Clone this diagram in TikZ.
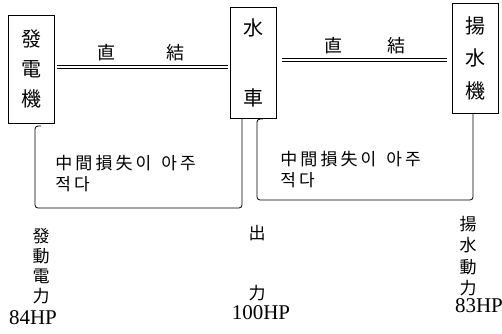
\documentclass[tikz,border=0pt]{standalone}
\usepackage{fontspec}
\setmainfont{Liberation Serif}
\newfontfamily\cjk{Noto Sans CJK KR}
\newfontfamily\cjkwide[LetterSpace=18]{Noto Sans CJK KR}
\usetikzlibrary{positioning}

\begin{document}
\begin{tikzpicture}[x=1pt,y=-1pt,line width=0.8pt,
			unit/.style={draw,minimum width=46pt,inner sep=0pt,align=center,font=\cjk\fontsize{20}{30}\selectfont},
			coupling/.style={double,double distance=2.4pt,line width=0.7pt},
			tag/.style={inner sep=0pt,font=\cjk\fontsize{18}{18}\selectfont},
			loss/.style={anchor=west,align=left,inner sep=0pt,font=\cjkwide\fontsize{17}{21}\selectfont},
			column/.style={align=center,inner sep=0pt,font=\cjk\fontsize{17}{20}\selectfont},
			hp/.style={inner sep=0pt,font=\fontsize{21}{21}\selectfont}]
		\useasboundingbox (0,0) rectangle (502,333);
		% machines
		\node[unit,minimum height=108pt] (gen) at (31.5,69) {發\\電\\機};
		\node[unit,minimum height=111pt] (wheel) at (253.5,62.5) {水\\[40pt]車};
		\node[unit,minimum height=110pt,font=\cjk\fontsize{20}{32.5}\selectfont] (pump) at (475.5,58) {揚\\水\\機};
		% direct couplings
		\coordinate (c1) at (57,67);
		\coordinate (c2) at (228,67);
		\coordinate (c3) at (282,60);
		\coordinate (c4) at (447,60);
		\draw[coupling] (c1) -- (c2);
		\draw[coupling] (c3) -- (c4);
		\node[tag] (d1) at (106,53) {直};
		\node[tag] (j1) at (175,53) {結};
		\node[tag] (d2) at (333,46) {直};
		\node[tag] (j2) at (396,46) {結};
		% loss boxes
		\draw[rounded corners=3pt] (41,126) -- (35,126) -- (35,208) -- (242,208) -- (242,0 |- wheel.south);
		\draw[rounded corners=3pt] (263,119) -- (257,119) -- (257,200) -- (473,200) -- (473,0 |- pump.south);
		\node[loss] (loss1) at (55,174) {中間損失이\hspace{0.6em}아주\\적다};
		\node[loss] (loss2) at (280,170) {中間損失이\hspace{0.6em}아주\\적다};
		% powers
		\node[column] (genpow) at (41,266) {發\\動\\電\\力};
		\node[column] (wheelpow) at (257,263) {出\\[40pt]力};
		\node[column,font=\cjk\fontsize{17}{21.5}\selectfont] (pumppow) at (468,256) {揚\\水\\動\\力};
		\node[hp] (genhp) at (33,318) {84HP};
		\node[hp] (wheelhp) at (261,313) {100HP};
		\node[hp] (pumphp) at (479,306) {83HP};
		\end{tikzpicture}
\end{document}
